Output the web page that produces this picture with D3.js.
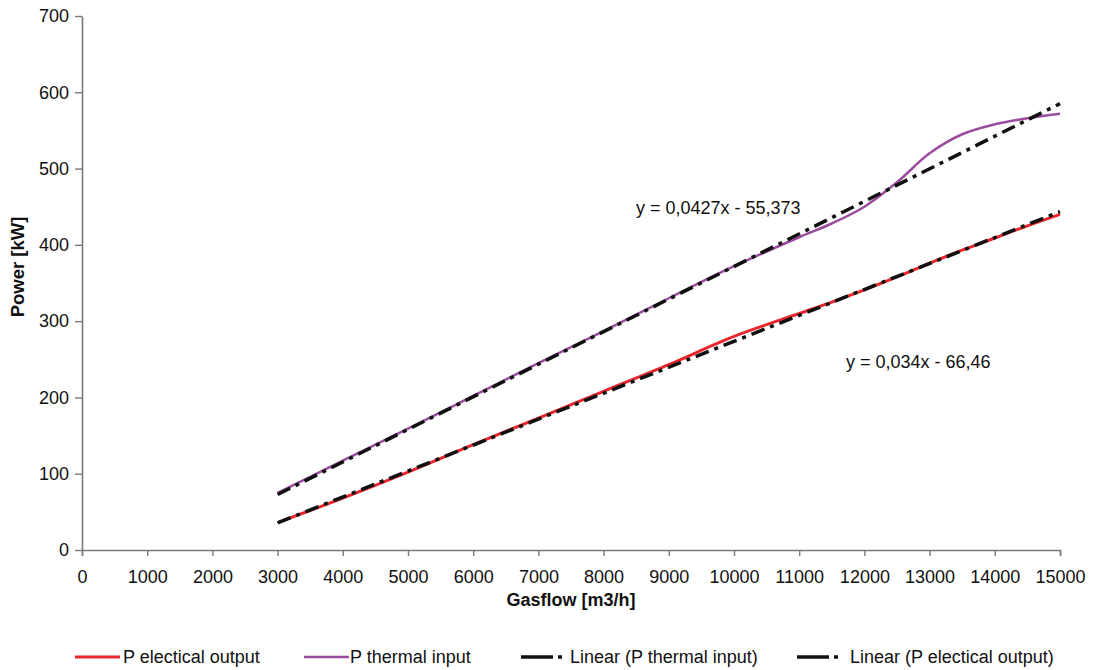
<!DOCTYPE html>
<html>
<head>
<meta charset="utf-8">
<script src="https://cdn.jsdelivr.net/npm/d3@7/dist/d3.min.js"></script>
<style>
  html, body { margin: 0; padding: 0; background: #fff; }
  svg { display: block; }
  text { font-family: "Liberation Sans", Arial, sans-serif; fill: #111; }
</style>
</head>
<body>
<svg id="chart" width="1096" height="670"></svg>
<script>
// ---- Data ----
const gasflow = [3000, 4000, 5000, 6000, 7000, 8000, 9000, 10000, 11000, 11500, 12000, 12500, 13000, 13500, 14000, 14500, 15000];
const thermalInput = [75, 117, 159, 202, 245, 287, 330, 372, 410, 428, 450, 482, 520, 545, 558, 566, 572];
const electricalOutput = [36, 68, 102, 138, 173, 208, 243, 280, 310, 325, 341, 358, 376, 393, 409, 425, 440];
const xTicks = [0, 1000, 2000, 3000, 4000, 5000, 6000, 7000, 8000, 9000, 10000, 11000, 12000, 13000, 14000, 15000];
const yTicks = [0, 100, 200, 300, 400, 500, 600, 700];
const trendThermal = { slope: 0.0427, intercept: -55.373, label: "y = 0,0427x - 55,373" };
const trendElectrical = { slope: 0.034, intercept: -66.46, label: "y = 0,034x - 66,46" };
const trendRange = [3000, 15000];
const legendLabels = ["P electical output", "P thermal input", "Linear (P thermal input)", "Linear (P electical output)"];

// ---- Layout ----
const svg = d3.select("#chart");
const x = d3.scaleLinear().domain([0, 15000]).range([82, 1060]);
const y = d3.scaleLinear().domain([0, 700]).range([550, 16]);
const axisColor = "#7a7a7a";
const redColor = "#e8262c";
const purpleColor = "#9a4d9e";
const dashPattern = "14,6,4,6";

// Axes
const xAxis = svg.append("g").attr("transform", `translate(0,${y(0)})`)
  .call(d3.axisBottom(x).tickValues(xTicks).tickSize(6).tickPadding(14).tickFormat(d3.format("d")));
xAxis.select(".domain").attr("stroke", axisColor).attr("stroke-width", 1.6);
xAxis.selectAll(".tick line").attr("stroke", axisColor).attr("stroke-width", 1.4);
xAxis.selectAll(".tick text").attr("font-size", 18).attr("fill", "#111")
  .attr("font-family", "'Liberation Sans', Arial, sans-serif");

const yAxis = svg.append("g").attr("transform", `translate(${x(0)},0)`)
  .call(d3.axisLeft(y).tickValues(yTicks).tickSize(7).tickPadding(6).tickSizeOuter(0));
yAxis.select(".domain").attr("stroke", axisColor).attr("stroke-width", 1.6);
yAxis.selectAll(".tick line").attr("stroke", axisColor).attr("stroke-width", 1.4);
yAxis.selectAll(".tick text").attr("font-size", 18).attr("fill", "#111")
  .attr("font-family", "'Liberation Sans', Arial, sans-serif");

// Axis titles
svg.append("text").attr("x", (x(0) + x(15000)) / 2).attr("y", 606)
  .attr("text-anchor", "middle").attr("font-size", 18).attr("font-weight", "bold")
  .text("Gasflow [m3/h]");
svg.append("text").attr("transform", `translate(24,${(y(0) + y(700)) / 2 - 16}) rotate(-90)`)
  .attr("text-anchor", "middle").attr("font-size", 18.5).attr("font-weight", "bold")
  .text("Power [kW]");

// Series lines
const line = d3.line().x(d => x(d[0])).y(d => y(d[1])).curve(d3.curveCatmullRom.alpha(0.5));
svg.append("path").datum(gasflow.map((g, i) => [g, electricalOutput[i]]))
  .attr("d", line).attr("fill", "none").attr("stroke", redColor).attr("stroke-width", 3);
svg.append("path").datum(gasflow.map((g, i) => [g, thermalInput[i]]))
  .attr("d", line).attr("fill", "none").attr("stroke", purpleColor).attr("stroke-width", 2.5);

// Trend lines
const straight = d3.line().x(d => x(d[0])).y(d => y(d[1]));
[trendThermal, trendElectrical].forEach(t => {
  svg.append("path").datum(trendRange.map(g => [g, t.slope * g + t.intercept]))
    .attr("d", straight).attr("fill", "none").attr("stroke", "#111")
    .attr("stroke-width", 3.5).attr("stroke-dasharray", dashPattern);
});

// Equation labels
svg.append("text").attr("x", 636).attr("y", 214).attr("font-size", 18).text(trendThermal.label);
svg.append("text").attr("x", 846).attr("y", 368).attr("font-size", 18).text(trendElectrical.label);

// Legend
const ly = 657;
const legend = svg.append("g");
legend.append("line").attr("x1", 75).attr("x2", 120).attr("y1", ly).attr("y2", ly)
  .attr("stroke", redColor).attr("stroke-width", 3);
legend.append("text").attr("x", 123).attr("y", ly + 6).attr("font-size", 18).text(legendLabels[0]);
legend.append("line").attr("x1", 304).attr("x2", 349).attr("y1", ly).attr("y2", ly)
  .attr("stroke", purpleColor).attr("stroke-width", 2.5);
legend.append("text").attr("x", 350).attr("y", ly + 6).attr("font-size", 18).text(legendLabels[1]);
[[521, 570, 2], [797, 850, 3]].forEach(([sx, tx, idx]) => {
  legend.append("line").attr("x1", sx).attr("x2", sx + 32).attr("y1", ly).attr("y2", ly)
    .attr("stroke", "#111").attr("stroke-width", 3.5);
  legend.append("line").attr("x1", sx + 37).attr("x2", sx + 41).attr("y1", ly).attr("y2", ly)
    .attr("stroke", "#111").attr("stroke-width", 3.5);
  legend.append("text").attr("x", tx).attr("y", ly + 6).attr("font-size", 18).text(legendLabels[idx]);
});
</script>
</body>
</html>
